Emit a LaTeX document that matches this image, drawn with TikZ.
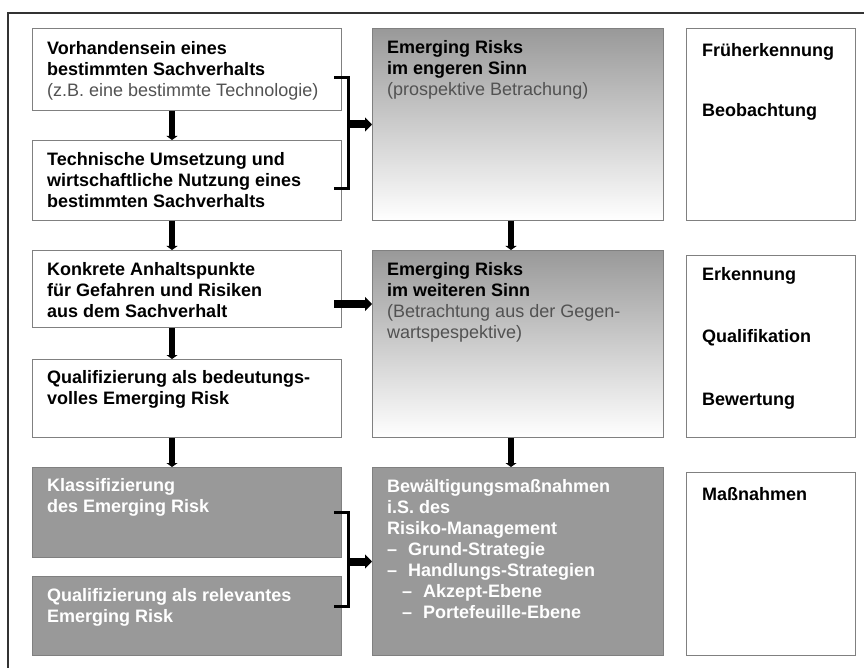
\documentclass[tikz,border=0pt]{standalone}
\usepackage{fontspec}
\setmainfont{Liberation Sans}
\usetikzlibrary{arrows.meta}

\newcommand{\notetext}[1]{{\mdseries\color{black!68}#1}}

\tikzset{
  box/.style={draw=black!50, line width=1pt, anchor=north west, inner sep=0pt},
  graybox/.style={box, fill=black!40},
  shadebox/.style={box, top color=black!40, bottom color=white},
  txt/.style={anchor=north west, inner sep=0pt, align=left, font=\fontsize{18}{21}\selectfont\bfseries},
  wtxt/.style={txt, text=white},
  arr/.style={line width=6pt, -{Triangle[length=4pt,width=11pt]}},
  bigarr/.style={line width=8pt, -{Triangle[length=7pt,width=14pt]}},
  brace/.style={line width=3pt}
}

\begin{document}
\begin{tikzpicture}[x=1pt,y=-1pt]
  \useasboundingbox (0,0) rectangle (864,668);
  \draw[line width=1.2pt, black!80] (8,668) -- (8,13) -- (864,13);

  % left column
  \node[box, minimum width=309pt, minimum height=82pt] (b1) at (32,28) {};
  \node[box, minimum width=309pt, minimum height=80pt] (b2) at (32,140) {};
  \node[box, minimum width=309pt, minimum height=77pt] (b3) at (32,250) {};
  \node[box, minimum width=309pt, minimum height=78pt] (b4) at (32,359) {};
  \node[graybox, minimum width=309pt, minimum height=90pt] (b5) at (32,467) {};
  \node[graybox, minimum width=309pt, minimum height=79pt] (b6) at (32,576) {};

  \node[txt] (t1) at ([shift={(15,13)}]b1.north west)
    {Vorhandensein eines\\bestimmten Sachverhalts\\\notetext{(z.B. eine bestimmte Technologie)}};
  \node[txt] (t2) at ([shift={(15,12)}]b2.north west)
    {Technische Umsetzung und\\wirtschaftliche Nutzung eines\\bestimmten Sachverhalts};
  \node[txt] (t3) at ([shift={(15,12)}]b3.north west)
    {Konkrete Anhaltspunkte\\für Gefahren und Risiken\\aus dem Sachverhalt};
  \node[txt] (t4) at ([shift={(15,11)}]b4.north west)
    {Qualifizierung als bedeutungs-\\volles Emerging Risk};
  \node[wtxt] (t5) at ([shift={(15,11)}]b5.north west)
    {Klassifizierung\\des Emerging Risk};
  \node[wtxt] (t6) at ([shift={(15,12)}]b6.north west)
    {Qualifizierung als relevantes\\Emerging Risk};

  % middle column
  \node[shadebox, minimum width=291pt, minimum height=192pt] (m1) at (372,28) {};
  \node[shadebox, minimum width=291pt, minimum height=187pt] (m2) at (372,250) {};
  \node[graybox, minimum width=291pt, minimum height=188pt] (m3) at (372,467) {};

  \node[txt] (u1) at ([shift={(15,12)}]m1.north west)
    {Emerging Risks\\im engeren Sinn\\\notetext{(prospektive Betrachung)}};
  \node[txt] (u2) at ([shift={(15,12)}]m2.north west)
    {Emerging Risks\\im weiteren Sinn\\\notetext{(Betrachtung aus der Gegen-}\\\notetext{wartspespektive)}};
  \node[wtxt] (u3) at ([shift={(15,12)}]m3.north west)
    {Bewältigungsmaßnahmen\\i.S. des\\Risiko-Management\\
     \makebox[21pt][l]{–}Grund-Strategie\\
     \makebox[21pt][l]{–}Handlungs-Strategien\\
     \hspace*{15pt}\makebox[21pt][l]{–}Akzept-Ebene\\
     \hspace*{15pt}\makebox[21pt][l]{–}Portefeuille-Ebene};

  % right column
  \node[box, minimum width=169pt, minimum height=192pt] (r1) at (686,28) {};
  \node[box, minimum width=169pt, minimum height=182pt] (r2) at (686,255) {};
  \node[box, minimum width=169pt, minimum height=183pt] (r3) at (686,472) {};

  \node[txt] (v1) at ([shift={(16,15)}]r1.north west) {Früherkennung};
  \node[txt] (v2) at ([shift={(16,75)}]r1.north west) {Beobachtung};
  \node[txt] (v3) at ([shift={(16,12)}]r2.north west) {Erkennung};
  \node[txt] (v4) at ([shift={(16,74)}]r2.north west) {Qualifikation};
  \node[txt] (v5) at ([shift={(16,138)}]r2.north west) {Bewertung};
  \node[txt] (v6) at ([shift={(16,15)}]r3.north west) {Maßnahmen};

  % vertical arrows
  \draw[arr] ([xshift=140pt]b1.south west) -- ([xshift=140pt]b2.north west);
  \draw[arr] ([xshift=140pt]b2.south west) -- ([xshift=140pt]b3.north west);
  \draw[arr] ([xshift=140pt]b3.south west) -- ([xshift=140pt]b4.north west);
  \draw[arr] ([xshift=140pt]b4.south west) -- ([xshift=140pt]b5.north west);
  \draw[arr] ([xshift=139pt]m1.south west) -- ([xshift=139pt]m2.north west);
  \draw[arr] ([xshift=139pt]m2.south west) -- ([xshift=139pt]m3.north west);

  % brackets and arrows to the middle
  \coordinate (k1a) at ([shift={(-8,50)}]b1.north east);
  \coordinate (k1b) at ([shift={(-8,-32)}]b2.south east);
  \draw[brace] (k1a) -- ++(14,0) |- (k1b);
  \coordinate (k1) at ([xshift=5pt]b1.east |- m1.west);
  \draw[bigarr] (k1) -- (m1.west);

  \coordinate (a3) at ([shift={(-8,15)}]b3.east);
  \draw[bigarr] (a3) -- (a3 -| m2.west);

  \coordinate (k2a) at ([xshift=-8pt]b5.east);
  \coordinate (k2b) at ([shift={(-8,-10)}]b6.east);
  \draw[brace] (k2a) -- ++(14,0) |- (k2b);
  \coordinate (k2) at ([xshift=5pt]b5.east |- m3.west);
  \draw[bigarr] (k2) -- (m3.west);
\end{tikzpicture}
\end{document}
